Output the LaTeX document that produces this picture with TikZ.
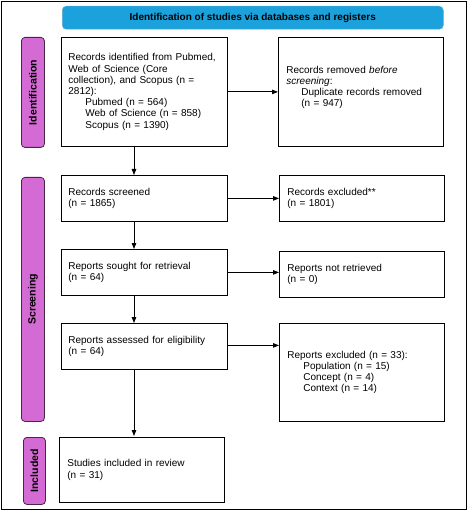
\documentclass[tikz,border=0pt]{standalone}
\usepackage{fontspec}
\setmainfont{Liberation Sans}
\usetikzlibrary{arrows.meta}
\definecolor{hdrblue}{RGB}{27,161,219}
\definecolor{hdredge}{RGB}{90,170,210}
\definecolor{lblpink}{RGB}{212,106,212}
\definecolor{lbledge}{RGB}{70,40,70}
\begin{document}
\begin{tikzpicture}[x=1pt,y=-1pt,
  box/.style={draw=black,line width=0.8pt,anchor=north west,inner xsep=7pt,inner ysep=0pt,
    align=left,font=\fontsize{10}{11.2}\selectfont},
  hdr/.style={draw=hdredge,line width=0.5pt,fill=hdrblue,rounded corners=4pt,anchor=north west,
    inner sep=0pt,font=\fontsize{10}{12}\selectfont\bfseries},
  lbl/.style={draw=lbledge,line width=0.8pt,fill=lblpink,rounded corners=3.5pt,anchor=north west,
    inner sep=0pt,font=\fontsize{10.5}{12}\selectfont\bfseries},
  arr/.style={line width=0.8pt,-{Triangle[length=6pt,width=4.5pt]}}]
\useasboundingbox (0,0) rectangle (467,510);
\node[draw=black,line width=0.8pt,anchor=north west,minimum width=465pt,minimum height=508pt,inner sep=0pt] (frame) at (1,1) {};
% header
\node[hdr,minimum width=381pt,minimum height=23pt] (head) at (62,6) {Identification of studies via databases and registers};
% side labels
\node[lbl,minimum width=23pt,minimum height=110pt] (lid) at (21,37) {};
\node[rotate=90,font=\fontsize{10.5}{12}\selectfont\bfseries] (lidt) at (lid.center) {Identification};
\node[lbl,minimum width=23pt,minimum height=244pt] (lsc) at (21,177) {};
\node[rotate=90,font=\fontsize{10.5}{12}\selectfont\bfseries] (lsct) at (lsc.center) {Screening};
\node[lbl,minimum width=22pt,minimum height=67pt] (lin) at (23,437) {};
\node[rotate=90,font=\fontsize{10.5}{12}\selectfont\bfseries] (lint) at (lin.center) {Included};
% boxes
\node[box,minimum width=166pt,minimum height=109pt,text width=152pt,inner xsep=7pt] (b1) at (61,37)
 {Records identified from Pubmed,\\ Web of Science (Core\\ collection), and Scopus (n =\\ 2812):\\
 \hspace*{17pt}Pubmed (n = 564)\\
 \hspace*{17pt}Web of Science (n = 858)\\
 \hspace*{17pt}Scopus (n = 1390)};
\node[box,minimum width=165pt,minimum height=109pt,text width=149pt,inner xsep=8pt] (b2) at (278,37)
 {Records removed \textit{before}\\ \textit{screening}:\\
 \hspace*{15pt}Duplicate records removed\\
 \hspace*{15pt}(n = 947)\\ \mbox{}};
\node[box,minimum width=166pt,minimum height=46pt,text width=152pt] (scr) at (61,175)
 {Records screened\\(n = 1865)};
\node[box,minimum width=165pt,minimum height=46pt,text width=149pt,inner xsep=8pt] (exc) at (279,175)
 {Records excluded**\\(n = 1801)};
\node[box,minimum width=166pt,minimum height=46pt,text width=152pt] (sou) at (61,249)
 {Reports sought for retrieval\\(n = 64)};
\node[box,minimum width=165pt,minimum height=46pt,text width=149pt,inner xsep=8pt] (nr) at (279,251)
 {Reports not retrieved\\(n = 0)};
\node[box,minimum width=166pt,minimum height=46pt,text width=152pt] (ass) at (61,323)
 {Reports assessed for eligibility\\(n = 64)};
\node[box,minimum width=165pt,minimum height=98pt,text width=149pt,inner xsep=8pt] (rex) at (279,323)
 {Reports excluded (n = 33):\\
 \hspace*{16pt}Population (n = 15)\\
 \hspace*{16pt}Concept (n = 4)\\
 \hspace*{16pt}Context (n = 14)};
\node[box,minimum width=165pt,minimum height=65pt,text width=149pt,inner xsep=8pt] (inc) at (59,437)
 {Studies included in review\\(n = 31)};
% connectors
\coordinate (xc) at (134,0);
\draw[arr] (b1) -- (b2);
\draw[arr] (scr) -- (exc);
\draw[arr] (sou.east) -- (sou.east -| nr.west);
\draw[arr] ([yshift=1pt]ass.east) -- ([yshift=1pt]ass.east -| rex.west);
\draw[arr] (b1.south -| xc) -- (scr.north -| xc);
\draw[arr] (scr.south -| xc) -- (sou.north -| xc);
\draw[arr] (sou.south -| xc) -- (ass.north -| xc);
\draw[arr] (ass.south -| xc) -- ([yshift=1pt]inc.north -| xc);
\end{tikzpicture}
\end{document}
